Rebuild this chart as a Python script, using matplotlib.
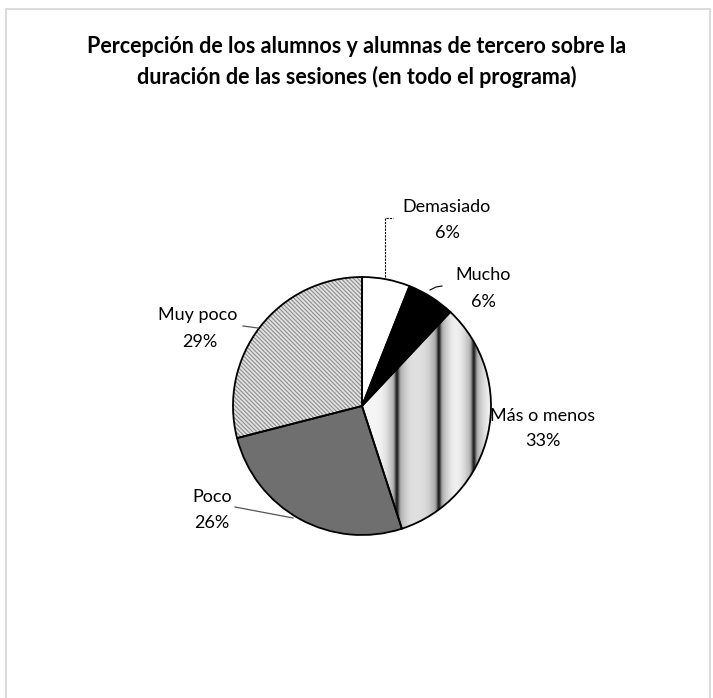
import numpy as np
import matplotlib
matplotlib.use("Agg")
import matplotlib.pyplot as plt
from matplotlib.patches import PathPatch, Rectangle

plt.rcParams["font.family"] = ["Lato", "DejaVu Sans"]
plt.rcParams["hatch.linewidth"] = 0.8

# datos
categorias = ["Demasiado", "Mucho", "Más o menos", "Poco", "Muy poco"]
porcentajes = [6, 6, 33, 26, 29]
titulo = ("Percepción de los alumnos y alumnas de tercero sobre la\n"
          "duración de las sesiones (en todo el programa)")

W, H = 713, 698
fig = plt.figure(figsize=(W / 100, H / 100), dpi=100)
ax = fig.add_axes([0, 0, 1, 1])

# marco del grafico
fig.patches.append(Rectangle((6 / W, -0.01), 704 / W, 1 - 9 / H + 0.01, transform=fig.transFigure,
                             fill=False, ec="#d4d4d4", lw=1.2))

cx, cy, r = 362, 406, 129
colores = ["white", "black", "white", "#6f6f6f", "#e2e2e2"]
# eje y invertido: counterclock=True se ve en sentido horario
wedges, _ = ax.pie(porcentajes, colors=colores, startangle=-90, counterclock=True,
                   center=(cx, cy), radius=r, frame=True,
                   wedgeprops=dict(linewidth=0))
ax.set_xlim(0, W)
ax.set_ylim(H, 0)
ax.set_aspect("equal")
ax.axis("off")

# trama de "Muy poco"
wedges[4].set_hatch("\\" * 8)
wedges[4].set_edgecolor("#8c8c8c")

# bandas verticales en "Más o menos"
xs = np.linspace(cx - r, cx + r, 800)
tono = np.full_like(xs, 0.96)
for c0 in [397, 439, 474]:
    tono -= 0.55 * np.exp(-0.5 * ((xs - c0) / 1.6) ** 2)
    tono -= 0.28 * np.exp(-0.5 * ((xs - c0) / 7.0) ** 2)
tono -= 0.08 * np.exp(-0.5 * ((xs - 420) / 10) ** 2)
grad = np.clip(tono, 0, 1)[None, :].repeat(10, axis=0)
im = ax.imshow(grad, cmap="gray", vmin=0, vmax=1, extent=(cx - r, cx + r, cy + r, cy - r),
               interpolation="bilinear", zorder=wedges[2].get_zorder() + 0.1)
im.set_clip_path(wedges[2])
ax.set_xlim(0, W)
ax.set_ylim(H, 0)

# contornos
for w in wedges:
    ax.add_patch(PathPatch(w.get_path(), fill=False, ec="black", lw=1.3, zorder=5))

fig.text(0.5, 1 - 62 / H, titulo, ha="center", va="center", fontsize=15.5,
         fontweight="bold", linespacing=1.5)

fs = 13
# etiquetas
ax.text(447, 207, "Demasiado", ha="center", va="center", fontsize=fs)
ax.text(447, 233, f"{porcentajes[0]}%", ha="center", va="center", fontsize=fs)
ax.plot([385, 385, 393], [277, 218, 218], color="black", lw=0.8, ls=(0, (2, 1)), zorder=6)

ax.text(483, 275, "Mucho", ha="center", va="center", fontsize=fs)
ax.text(483, 302, f"{porcentajes[1]}%", ha="center", va="center", fontsize=fs)
ax.plot([430, 436, 442], [290, 287, 286], color="black", lw=0.8, zorder=6)

ax.text(543, 416, "Más o menos", ha="center", va="center", fontsize=fs, zorder=7)
ax.text(543, 441, f"{porcentajes[2]}%", ha="center", va="center", fontsize=fs, zorder=7)

ax.text(212, 497, "Poco", ha="center", va="center", fontsize=fs)
ax.text(212, 523, f"{porcentajes[3]}%", ha="center", va="center", fontsize=fs)
ax.plot([235, 293], [507, 518], color="#555555", lw=0.9, zorder=6)

ax.text(198, 315, "Muy poco", ha="center", va="center", fontsize=fs)
ax.text(200, 342, f"{porcentajes[4]}%", ha="center", va="center", fontsize=fs)
ax.plot([243, 258], [326, 328], color="#555555", lw=0.9, zorder=6)

fig.savefig("out.png", dpi=100)
